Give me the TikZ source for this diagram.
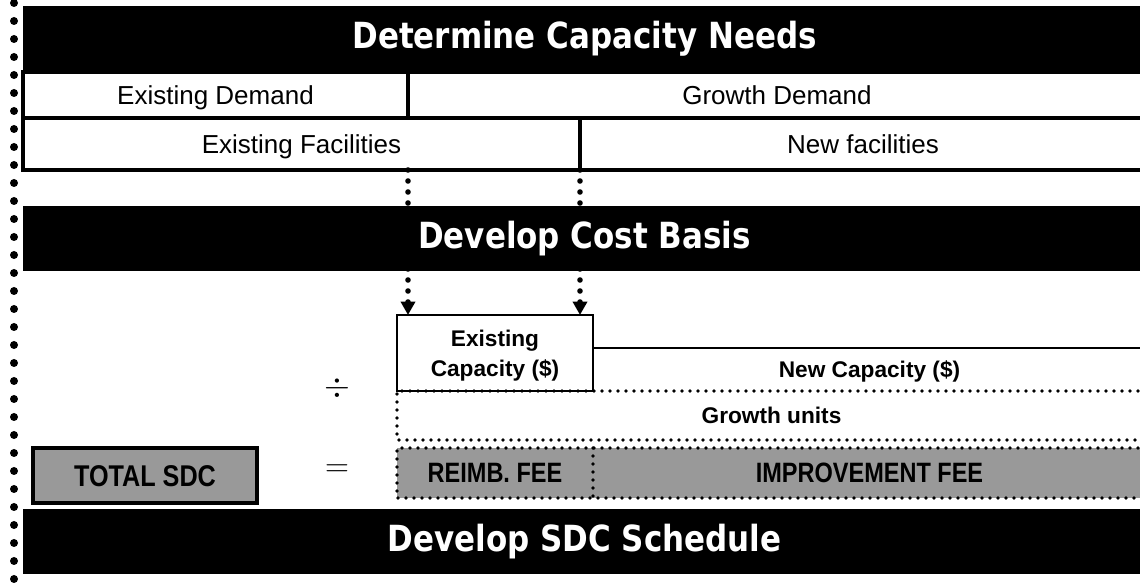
\documentclass[tikz,border=0pt]{standalone}
\usepackage{fontspec}
\setmainfont{Liberation Sans}
\newfontfamily\bannerfont[FakeStretch=0.86]{DejaVu Sans}
\newfontfamily\narrowfont[FakeStretch=0.84]{Liberation Sans}
\usetikzlibrary{arrows.meta, positioning}
\newcommand{\pxu}{0.75pt}
\tikzset{
	banner/.style={anchor=north west, fill=black, text=white, inner sep=0pt, outer sep=0pt, minimum width=1123*\pxu, minimum height=65*\pxu, text height=20pt, text depth=5pt, font=\bannerfont\bfseries\fontsize{27}{30}\selectfont},
	cell/.style={anchor=north west, draw, line width=3pt, inner sep=0pt, outer sep=0pt, text height=15pt, text depth=0pt, font=\fontsize{19.5}{23}\selectfont},
	capbox/.style={anchor=north west, draw, line width=1.5pt, inner sep=0pt, outer sep=0pt, align=center, text depth=0pt, font=\bfseries\fontsize{17}{22.5}\selectfont},
	label/.style={anchor=north west, inner sep=0pt, outer sep=0pt, text height=13pt, text depth=1.5pt, font=\bfseries\fontsize{17}{22.5}\selectfont},
	fee/.style={anchor=north west, fill=black!40, inner sep=0pt, outer sep=0pt, text height=15pt, text depth=0pt, font=\narrowfont\bfseries\fontsize{21}{25}\selectfont},
	% small round dots
	finedots/.style={line width=2.8pt, line cap=round, dash pattern=on 0pt off 6pt},
	% bigger dots with a filled head
	dotarrow/.style={line width=4.2pt, line cap=round, dash pattern=on 0pt off 8.25pt, -{Triangle[length=10pt, width=10.5pt]}},
	op/.style={inner sep=0pt, font=\fontsize{26}{26}\selectfont},
}

\begin{document}
\begin{tikzpicture}[x=0.75pt, y=-0.75pt]
	\useasboundingbox (0,0) rectangle (1140,584);
	
	% dotted margin
	\foreach \k in {0,...,32}
		\fill (14,3+18*\k) circle (3pt);
	
	\node (needs) [banner] at (23,6) {Determine Capacity Needs};
	
	\node (edem) [cell, minimum width=385*\pxu, minimum height=46*\pxu] at (23,72) {Existing Demand};
	\node (gdem) [cell, minimum width=738*\pxu, minimum height=46*\pxu, right=0pt of edem] {Growth Demand};
	\node (efac) [cell, minimum width=557*\pxu, minimum height=52*\pxu] at (23,118) {Existing Facilities};
	\node (nfac) [cell, minimum width=566*\pxu, minimum height=52*\pxu, right=0pt of efac] {New facilities};
	
	\node (cap) [capbox, minimum width=196*\pxu, minimum height=76*\pxu] at (397,315) {Existing\\Capacity (\$)};
	\node (ncap) [label, minimum width=553*\pxu, minimum height=43*\pxu] at (593,348) {New Capacity (\$)};
	\node (gu) [label, minimum width=749*\pxu, minimum height=49*\pxu] at (397,391) {Growth units};
	
	\draw[line width=1.5pt] (ncap.north west) -- (ncap.north east);
	\draw[finedots] (gu.north east) -- (gu.north west) -- (gu.south west) -- (gu.south east);
	
	\begin{scope}[dotarrow]
		\draw (edem.east |- efac.south) -- (edem.east |- cap.north);
		\draw (efac.south east) -- (efac.south east |- cap.north);
	\end{scope}
	
	\node (cost) [banner] at (23,206) {Develop Cost Basis};
	
	\node (reimb) [fee, minimum width=196*\pxu, minimum height=50*\pxu] at (397,448) {REIMB. FEE};
	\node (impr) [fee, minimum width=553*\pxu, minimum height=50*\pxu, right=0pt of reimb] {IMPROVEMENT FEE};
	\draw[finedots] (impr.north east) -- (reimb.north west) -- (reimb.south west) -- (impr.south east);
	\draw[finedots] (reimb.north east) -- (reimb.south east);
	
	\node (total) [fee, draw, line width=3pt, minimum width=224*\pxu, minimum height=55*\pxu, text height=16pt, font=\narrowfont\bfseries\fontsize{22.5}{26}\selectfont] at (33,448) {TOTAL SDC};
	
	\node (div) [op] at (337,388) {$\div$};
	\node (eq) [op] at (337,471) {$=$};
	
	\node (sched) [banner] at (23,509) {Develop SDC Schedule};
\end{tikzpicture}
\end{document}
